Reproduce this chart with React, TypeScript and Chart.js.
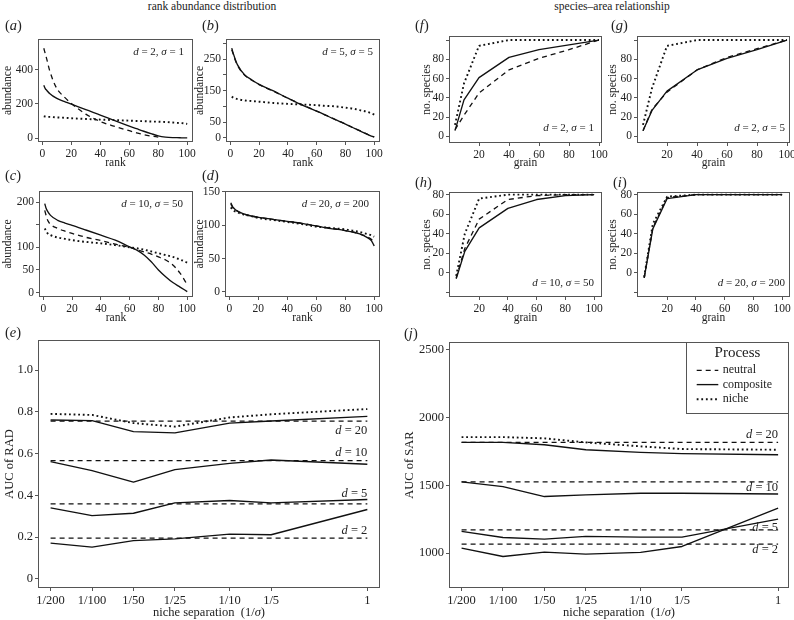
import React, { useEffect, useRef } from 'react';
import { Chart, registerables } from 'chart.js';

Chart.register(...registerables);

// ---------------- data ----------------
const RANK = [1, 2, 3, 5, 10, 15, 20, 30, 40, 50, 60, 65, 70, 75, 80, 85, 90, 95, 98, 100];

const A_NEUTRAL = [526, 495, 464, 396, 290, 242, 203, 140, 97, 68, 43, 31, 20, 12, 6, null, null, null, null, null];
const A_COMPOSITE = [309, 290, 280, 261, 232, 215, 199, 166, 135, 102, 70, 55, 40, 26, 13, 6, 3, 2, 1, 1];
const A_NICHE = [128, 126, 125, 124, 121, 119, 116, 112, 108, 105, 102, 100, 99, 97, 96, 94, 91, 88, 86, 83];

const B_NEUTRAL = [280, 266, 252, 230, 199, 183, 169, 148, 126, 105, 85, 75, 65, 54, 44, 33, 23, 12, 6, 3];
const B_COMPOSITE = [285, 269, 255, 232, 200, 184, 170, 149, 126, 104, 85, 75, 64, 54, 44, 33, 22, 12, 6, 3];
const B_NICHE = [131, 128, 126, 123, 119, 117, 115, 111, 108, 106, 104, 102, 101, 99, 96, 93, 88, 83, 78, 74];

const C_NEUTRAL = [182, 170, 160, 151, 142, 136, 131, 122, 115, 107, 100, 95, 90, 85, 79, 72, 61, 43, 28, 17];
const C_COMPOSITE = [197, 186, 180, 171, 160, 154, 149, 138, 127, 116, 101, 94, 83, 68, 50, 35, 22, 12, 6, 2];
const C_NICHE = [142, 136, 131, 127, 122, 119, 116, 112, 109, 105, 100, 98, 95, 91, 87, 83, 79, 73, 69, 66];

const D_NEUTRAL = [132, 128, 125, 122, 117, 114, 112, 109, 106, 103, 99, 97, 96, 94, 92, 90, 87, 83, 79, 74];
const D_COMPOSITE = [134, 129, 126, 122, 117, 114, 112, 109, 106, 103, 99, 97, 95, 94, 92, 90, 87, 82, 77, 69];
const D_NICHE = [127, 124, 122, 120, 116, 114, 111, 108, 105, 102, 98, 97, 96, 95, 94, 92, 90, 87, 85, 83];

const GRAIN = [4, 10, 20, 40, 60, 80, 100];

const F_NEUTRAL = [7, 22, 45, 69, 81, 90, 100];
const F_COMPOSITE = [6, 38, 61, 82, 90, 95, 100];
const F_NICHE = [12, 55, 94, 100, 100, 100, 100];

const G_NEUTRAL = [6, 28, 46, 69, 82, 91, 100];
const G_COMPOSITE = [6, 27, 47, 69, 81, 90, 100];
const G_NICHE = [12, 50, 94, 100, 100, 100, 100];

const H_NEUTRAL = [-5, 25, 55, 75, 79, 80, 80];
const H_COMPOSITE = [-6, 22, 46, 66, 75, 79, 80];
const H_NICHE = [-3, 40, 76, 80, 80, 80, 80];

const I_NEUTRAL = [-5, 46, 77, 80, 80, 80, 80];
const I_COMPOSITE = [-5, 45, 76, 80, 80, 80, 80];
const I_NICHE = [-4, 50, 78, 80, 80, 80, 80];

const NICHE_SEP = [1 / 200, 1 / 100, 1 / 50, 1 / 25, 1 / 10, 1 / 5, 1];
const NICHE_SEP_LABELS = ['1/200', '1/100', '1/50', '1/25', '1/10', '1/5', '1'];

const E_NEUTRAL_D20 = [0.755, 0.755, 0.755, 0.755, 0.755, 0.755, 0.755];
const E_NEUTRAL_D10 = [0.566, 0.566, 0.566, 0.566, 0.566, 0.566, 0.566];
const E_NEUTRAL_D5 = [0.359, 0.359, 0.359, 0.359, 0.359, 0.359, 0.359];
const E_NEUTRAL_D2 = [0.195, 0.195, 0.195, 0.195, 0.195, 0.195, 0.195];
const E_COMPOSITE_D20 = [0.761, 0.758, 0.705, 0.699, 0.746, 0.756, 0.778];
const E_COMPOSITE_D10 = [0.561, 0.518, 0.463, 0.523, 0.553, 0.569, 0.549];
const E_COMPOSITE_D5 = [0.34, 0.303, 0.314, 0.364, 0.375, 0.364, 0.38];
const E_COMPOSITE_D2 = [0.171, 0.152, 0.183, 0.191, 0.214, 0.211, 0.332];
const E_NICHE = [0.79, 0.785, 0.746, 0.729, 0.773, 0.788, 0.813];
const E_D_LABELS = [
  { d: 20, y: 0.71 },
  { d: 10, y: 0.603 },
  { d: 5, y: 0.407 },
  { d: 2, y: 0.231 },
];

const J_NEUTRAL_D20 = [1816, 1816, 1816, 1816, 1816, 1816, 1816];
const J_NEUTRAL_D10 = [1525, 1525, 1525, 1525, 1525, 1525, 1525];
const J_NEUTRAL_D5 = [1172, 1172, 1172, 1172, 1172, 1172, 1172];
const J_NEUTRAL_D2 = [1066, 1066, 1066, 1066, 1066, 1066, 1066];
const J_COMPOSITE_D20 = [1816, 1816, 1799, 1762, 1743, 1733, 1725];
const J_COMPOSITE_D10 = [1525, 1490, 1417, 1429, 1441, 1441, 1436];
const J_COMPOSITE_D5 = [1160, 1115, 1103, 1123, 1118, 1118, 1250];
const J_COMPOSITE_D2 = [1037, 975, 1007, 993, 1005, 1049, 1331];
const J_NICHE = [1855, 1855, 1846, 1816, 1787, 1767, 1762];
const J_D_LABELS = [
  { d: 20, y: 1873 },
  { d: 10, y: 1480 },
  { d: 5, y: 1190 },
  { d: 2, y: 1027 },
];

type Kind = 'neutral' | 'composite' | 'niche';
const LEGEND_ITEMS: Kind[] = ['neutral', 'composite', 'niche'];

// ---------------- styles ----------------
const FONT = '"Liberation Serif", "Times New Roman", serif';
const INK = '#222';
const FRAME = '#555';

const LINE: Record<Kind, any> = {
  neutral: { borderDash: [5, 4], borderWidth: 1.3 },
  composite: { borderDash: [], borderWidth: 1.35 },
  niche: { borderDash: [1.8, 2.8], borderWidth: 1.9 },
};

type Seg = { t: string; i?: boolean };
const sig = (d: number, s: number): Seg[] => [
  { t: 'd', i: true },
  { t: ` = ${d}, ` },
  { t: 'σ', i: true },
  { t: ` = ${s}` },
];

function drawRich(ctx: CanvasRenderingContext2D, segs: Seg[], x: number, y: number, size: number, align: string) {
  const fonts = segs.map((s) => `${s.i ? 'italic ' : ''}${size}px ${FONT}`);
  const ws = segs.map((s, k) => {
    ctx.font = fonts[k];
    return ctx.measureText(s.t).width;
  });
  const total = ws.reduce((a, b) => a + b, 0);
  let cx = align === 'right' ? x - total : align === 'center' ? x - total / 2 : x;
  ctx.textBaseline = 'middle';
  ctx.textAlign = 'left';
  segs.forEach((s, k) => {
    ctx.font = fonts[k];
    ctx.fillText(s.t, cx, y);
    cx += ws[k];
  });
}

const decoPlugin = {
  id: 'deco',
  afterDraw(chart: any, _args: any, opts: any) {
    const { ctx, chartArea: ca } = chart;
    ctx.save();
    ctx.setLineDash([]);
    ctx.strokeStyle = FRAME;
    ctx.lineWidth = 1;
    ctx.strokeRect(Math.round(ca.left) + 0.5, Math.round(ca.top) + 0.5, Math.round(ca.right - ca.left) - 1, Math.round(ca.bottom - ca.top) - 1);
    ctx.fillStyle = INK;
    if (opts.note) {
      const n = opts.note;
      const y = n.from === 'top' ? ca.top + n.dy : ca.bottom + n.dy;
      drawRich(ctx, n.segs, ca.right + n.dx, y, n.size, 'right');
    }
    if (opts.dLabels) {
      const xs = chart.scales.x;
      const ys = chart.scales.y;
      for (const d of opts.dLabels) {
        drawRich(ctx, [{ t: 'd', i: true }, { t: ' = ' + d.d }], xs.getPixelForValue(1), ys.getPixelForValue(d.y), opts.dSize, 'right');
      }
    }
    if (opts.xRich) {
      drawRich(ctx, opts.xRich.segs, (ca.left + ca.right) / 2, opts.xRich.y, opts.xRich.size, 'center');
    }
    if (opts.legend) {
      const w = 103;
      const h = 72;
      const lx = Math.round(ca.right) - w;
      const ty = Math.round(ca.top);
      ctx.fillStyle = '#fff';
      ctx.fillRect(lx + 0.5, ty + 0.5, w - 1, h - 1);
      ctx.strokeStyle = FRAME;
      ctx.lineWidth = 1;
      ctx.strokeRect(lx + 0.5, ty + 0.5, w - 1, h - 1);
      ctx.fillStyle = INK;
      ctx.font = `15px ${FONT}`;
      ctx.textAlign = 'center';
      ctx.textBaseline = 'middle';
      ctx.fillText('Process', lx + w / 2, ty + 11);
      const rows = [28.3, 42.6, 57.3];
      LEGEND_ITEMS.forEach((k, idx) => {
        const yy = ty + rows[idx];
        ctx.save();
        ctx.strokeStyle = '#111';
        ctx.lineWidth = LINE[k].borderWidth;
        ctx.setLineDash(LINE[k].borderDash);
        ctx.beginPath();
        ctx.moveTo(lx + 10.7, yy);
        ctx.lineTo(lx + 32.3, yy);
        ctx.stroke();
        ctx.restore();
        ctx.fillStyle = INK;
        ctx.font = `12px ${FONT}`;
        ctx.textAlign = 'left';
        ctx.textBaseline = 'middle';
        ctx.fillText(k, lx + 36.7, yy);
      });
    }
    ctx.restore();
  },
};

// ---------------- panels ----------------
const radTicks = { ticks: [0, 20, 40, 60, 80, 100], labels: ['0', '20', '40', '60', '80', '100'] };
const sarTicks = { ticks: [20, 40, 60, 80, 100], labels: ['20', '40', '60', '80', '100'] };

const PANELS: any[] = [
  {
    id: 'a', box: [38, 39, 193, 142], yTitleX: 7.5, xTitleY: 163, yTitle: 'abundance', xTitle: 'rank',
    x: { type: 'linear', min: -3, max: 104, ...radTicks },
    y: { min: -23, max: 580, ticks: [0, 200, 400], labels: ['0', '200', '400'] },
    smooth: true,
    series: [
      { x: RANK, y: A_NEUTRAL, kind: 'neutral' },
      { x: RANK, y: A_COMPOSITE, kind: 'composite' },
      { x: RANK, y: A_NICHE, kind: 'niche' },
    ],
    note: { segs: sig(2, 1), dx: -9, dy: 13, from: 'top' },
  },
  {
    id: 'b', box: [226, 39, 380, 142], yTitleX: 200, xTitleY: 163, yTitle: 'abundance', xTitle: 'rank',
    x: { type: 'linear', min: -3, max: 104, ...radTicks },
    y: { min: -13, max: 314, ticks: [0, 50, 100, 150, 200, 250, 300], labels: ['0', '50', '', '150', '', '250', ''] },
    smooth: true,
    series: [
      { x: RANK, y: B_NEUTRAL, kind: 'neutral' },
      { x: RANK, y: B_COMPOSITE, kind: 'composite' },
      { x: RANK, y: B_NICHE, kind: 'niche' },
    ],
    note: { segs: sig(5, 5), dx: -7, dy: 13, from: 'top' },
  },
  {
    id: 'c', box: [39, 191, 193, 297], yTitleX: 7.5, xTitleY: 318, yTitle: 'abundance', xTitle: 'rank',
    x: { type: 'linear', min: -3, max: 104, ...radTicks },
    y: { min: -10, max: 225, ticks: [0, 50, 100, 150, 200], labels: ['0', '50', '100', '', '200'] },
    smooth: true,
    series: [
      { x: RANK, y: C_NEUTRAL, kind: 'neutral' },
      { x: RANK, y: C_COMPOSITE, kind: 'composite' },
      { x: RANK, y: C_NICHE, kind: 'niche' },
    ],
    note: { segs: sig(10, 50), dx: -10, dy: 13.5, from: 'top' },
  },
  {
    id: 'd', box: [225, 191, 380, 297], yTitleX: 200, xTitleY: 318, yTitle: 'abundance', xTitle: 'rank',
    x: { type: 'linear', min: -3, max: 104, ...radTicks },
    y: { min: -7.6, max: 151.5, ticks: [0, 50, 100, 150], labels: ['0', '50', '100', '150'] },
    smooth: true,
    series: [
      { x: RANK, y: D_NEUTRAL, kind: 'neutral' },
      { x: RANK, y: D_COMPOSITE, kind: 'composite' },
      { x: RANK, y: D_NICHE, kind: 'niche' },
    ],
    note: { segs: sig(20, 200), dx: -11, dy: 13.5, from: 'top' },
  },
  {
    id: 'f', box: [449, 36, 602, 143], yTitleX: 426.7, xTitleY: 163, yTitle: 'no. species', xTitle: 'grain',
    x: { type: 'linear', min: 0, max: 102, ...sarTicks },
    y: { min: -6.8, max: 104.2, ticks: [0, 20, 40, 60, 80, 100], labels: ['0', '20', '40', '60', '80', ''] },
    series: [
      { x: GRAIN, y: F_NEUTRAL, kind: 'neutral' },
      { x: GRAIN, y: F_COMPOSITE, kind: 'composite' },
      { x: GRAIN, y: F_NICHE, kind: 'niche' },
    ],
    note: { segs: sig(2, 1), dx: -8, dy: -15, from: 'bottom' },
  },
  {
    id: 'g', box: [637, 36, 790, 143], yTitleX: 613.3, xTitleY: 163, yTitle: 'no. species', xTitle: 'grain',
    x: { type: 'linear', min: 0, max: 102, ...sarTicks },
    y: { min: -6.8, max: 104.2, ticks: [0, 20, 40, 60, 80, 100], labels: ['0', '20', '40', '60', '80', ''] },
    series: [
      { x: GRAIN, y: G_NEUTRAL, kind: 'neutral' },
      { x: GRAIN, y: G_COMPOSITE, kind: 'composite' },
      { x: GRAIN, y: G_NICHE, kind: 'niche' },
    ],
    note: { segs: sig(2, 5), dx: -5, dy: -15, from: 'bottom' },
  },
  {
    id: 'h', box: [449, 192, 602, 297], yTitleX: 426.7, xTitleY: 318, yTitle: 'no. species', xTitle: 'grain',
    x: { type: 'linear', min: -1, max: 105.5, ...sarTicks },
    y: { min: -24.6, max: 82.7, ticks: [-20, 0, 20, 40, 60, 80], labels: ['', '0', '20', '40', '60', '80'] },
    series: [
      { x: GRAIN, y: H_NEUTRAL, kind: 'neutral' },
      { x: GRAIN, y: H_COMPOSITE, kind: 'composite' },
      { x: GRAIN, y: H_NICHE, kind: 'niche' },
    ],
    note: { segs: sig(10, 50), dx: -8, dy: -14, from: 'bottom' },
  },
  {
    id: 'i', box: [637, 192, 790, 297], yTitleX: 613.3, xTitleY: 318, yTitle: 'no. species', xTitle: 'grain',
    x: { type: 'linear', min: -1, max: 105.5, ...sarTicks },
    y: { min: -24.6, max: 82.7, ticks: [-20, 0, 20, 40, 60, 80], labels: ['', '0', '20', '40', '60', '80'] },
    series: [
      { x: GRAIN, y: I_NEUTRAL, kind: 'neutral' },
      { x: GRAIN, y: I_COMPOSITE, kind: 'composite' },
      { x: GRAIN, y: I_NICHE, kind: 'niche' },
    ],
    note: { segs: sig(20, 200), dx: -5, dy: -14, from: 'bottom' },
  },
  {
    id: 'e', big: true, box: [38, 340, 380, 588], yTitleX: 10, xTitleY: 613, yTitle: 'AUC of RAD', xTitle: null,
    x: { type: 'logarithmic', min: 0.00405, max: 1.236, ticks: NICHE_SEP, labels: NICHE_SEP_LABELS },
    y: { min: -0.044, max: 1.144, ticks: [0, 0.2, 0.4, 0.6, 0.8, 1.0], labels: ['0', '0.2', '0.4', '0.6', '0.8', '1.0'] },
    series: [
      { x: NICHE_SEP, y: E_NEUTRAL_D20, kind: 'neutral' },
      { x: NICHE_SEP, y: E_NEUTRAL_D10, kind: 'neutral' },
      { x: NICHE_SEP, y: E_NEUTRAL_D5, kind: 'neutral' },
      { x: NICHE_SEP, y: E_NEUTRAL_D2, kind: 'neutral' },
      { x: NICHE_SEP, y: E_COMPOSITE_D20, kind: 'composite' },
      { x: NICHE_SEP, y: E_COMPOSITE_D10, kind: 'composite' },
      { x: NICHE_SEP, y: E_COMPOSITE_D5, kind: 'composite' },
      { x: NICHE_SEP, y: E_COMPOSITE_D2, kind: 'composite' },
      { x: NICHE_SEP, y: E_NICHE, kind: 'niche' },
    ],
    dLabels: E_D_LABELS,
  },
  {
    id: 'j', big: true, box: [449, 342, 789, 588], yTitleX: 410, xTitleY: 613, yTitle: 'AUC of SAR', xTitle: null,
    x: { type: 'logarithmic', min: 0.00405, max: 1.2, ticks: NICHE_SEP, labels: NICHE_SEP_LABELS },
    y: { min: 743, max: 2556, ticks: [1000, 1500, 2000, 2500], labels: ['1000', '1500', '2000', '2500'] },
    series: [
      { x: NICHE_SEP, y: J_NEUTRAL_D20, kind: 'neutral' },
      { x: NICHE_SEP, y: J_NEUTRAL_D10, kind: 'neutral' },
      { x: NICHE_SEP, y: J_NEUTRAL_D5, kind: 'neutral' },
      { x: NICHE_SEP, y: J_NEUTRAL_D2, kind: 'neutral' },
      { x: NICHE_SEP, y: J_COMPOSITE_D20, kind: 'composite' },
      { x: NICHE_SEP, y: J_COMPOSITE_D10, kind: 'composite' },
      { x: NICHE_SEP, y: J_COMPOSITE_D5, kind: 'composite' },
      { x: NICHE_SEP, y: J_COMPOSITE_D2, kind: 'composite' },
      { x: NICHE_SEP, y: J_NICHE, kind: 'niche' },
    ],
    dLabels: J_D_LABELS,
    legend: true,
  },
];

function geom(c: any) {
  const [l, t, r, b] = c.box;
  const off = 8;
  const left = Math.round(c.yTitleX - off);
  const L = l - left;
  const T = 12;
  const R = 14;
  const top = t - T;
  const B = Math.round(c.xTitleY + 9 - b);
  return { left, top, L, T, R, B, w: L + (r - l) + R, h: T + (b - t) + B };
}

function makeConfig(c: any, g: any) {
  const big = !!c.big;
  const tickSize = big ? 12.5 : 11.5;
  const titleSize = big ? 12.5 : 11.5;
  const lh = titleSize * 1.2;
  const tickLen = 3;
  const datasets = c.series.map((s: any) => ({
    data: s.x.map((xv: number, i: number) => ({ x: xv, y: s.y[i] })),
    borderColor: '#111',
    backgroundColor: 'transparent',
    pointRadius: 0,
    pointHoverRadius: 0,
    fill: false,
    tension: c.smooth ? 0.4 : 0,
    cubicInterpolationMode: c.smooth ? 'monotone' : 'default',
    spanGaps: false,
    borderCapStyle: 'butt',
    borderJoinStyle: 'round',
    ...LINE[s.kind as Kind],
  }));
  const yTitlePad = Math.max(0, c.yTitleX - g.left - lh / 2);
  const xTitlePad = Math.max(0, g.top + g.h - c.xTitleY - lh / 2);
  const grid = { display: true, drawOnChartArea: false, drawTicks: true, tickLength: tickLen, color: FRAME, lineWidth: 1 };
  const tickFont = { family: FONT, size: tickSize };
  return {
    type: 'line',
    data: { datasets },
    options: {
      responsive: false,
      maintainAspectRatio: false,
      animation: false,
      events: [],
      layout: { padding: { left: 0, top: g.T, right: g.R, bottom: 0 } },
      plugins: {
        legend: { display: false },
        tooltip: { enabled: false },
        deco: {
          note: c.note ? { ...c.note, size: 11 } : null,
          dLabels: c.dLabels || null,
          dSize: 12.5,
          legend: !!c.legend,
          xRich: c.xTitle
            ? null
            : { segs: [{ t: 'niche separation  (1/' }, { t: 'σ', i: true }, { t: ')' }], y: c.xTitleY - g.top, size: 12.5 },
        },
      },
      scales: {
        x: {
          type: c.x.type,
          min: c.x.min,
          max: c.x.max,
          bounds: 'data',
          afterBuildTicks: (s: any) => {
            s.ticks = c.x.ticks.map((v: number) => ({ value: v }));
          },
          afterFit: (s: any) => {
            s.height = g.B;
          },
          ticks: {
            autoSkip: false,
            maxRotation: 0,
            minRotation: 0,
            padding: 2,
            color: INK,
            font: tickFont,
            callback: (_v: any, i: number) => c.x.labels[i],
          },
          grid,
          border: { display: false },
          title: c.xTitle
            ? { display: true, text: c.xTitle, color: INK, font: { family: FONT, size: titleSize }, padding: { top: 0, bottom: xTitlePad } }
            : { display: false },
        },
        y: {
          type: 'linear',
          min: c.y.min,
          max: c.y.max,
          bounds: 'data',
          afterBuildTicks: (s: any) => {
            s.ticks = c.y.ticks.map((v: number) => ({ value: v }));
          },
          afterFit: (s: any) => {
            s.width = g.L;
          },
          ticks: {
            autoSkip: false,
            padding: 2,
            color: INK,
            font: tickFont,
            callback: (_v: any, i: number) => c.y.labels[i],
          },
          grid,
          border: { display: false },
          title: { display: true, text: c.yTitle, color: INK, font: { family: FONT, size: titleSize }, padding: { top: yTitlePad, bottom: 0 } },
        },
      },
    },
    plugins: [decoPlugin],
  };
}

function Panel({ cfg }: { cfg: any }) {
  const ref = useRef<HTMLCanvasElement | null>(null);
  const g = geom(cfg);
  useEffect(() => {
    if (!ref.current) return;
    const chart = new Chart(ref.current, makeConfig(cfg, g) as any);
    return () => chart.destroy();
  }, []);
  return (
    <canvas
      ref={ref}
      width={g.w}
      height={g.h}
      style={{ position: 'absolute', left: g.left, top: g.top, width: g.w, height: g.h }}
    />
  );
}

const LETTERS = [
  { k: 'a', x: 5, y: 25 },
  { k: 'b', x: 202, y: 25 },
  { k: 'c', x: 5, y: 175 },
  { k: 'd', x: 202, y: 175 },
  { k: 'e', x: 5, y: 332 },
  { k: 'f', x: 415, y: 25 },
  { k: 'g', x: 611, y: 25 },
  { k: 'h', x: 415, y: 182 },
  { k: 'i', x: 613, y: 182 },
  { k: 'j', x: 404, y: 333 },
];

export default function App() {
  return (
    <div
      style={{
        position: 'absolute',
        left: 0,
        top: 0,
        width: 794,
        height: 620,
        background: '#fff',
        overflow: 'hidden',
        fontFamily: FONT,
        color: INK,
      }}
    >
      {PANELS.map((p) => (
        <Panel key={p.id} cfg={p} />
      ))}
      <div style={{ position: 'absolute', left: 112, width: 200, top: 7, transform: 'translateY(-50%)', textAlign: 'center', fontSize: 11.5, lineHeight: 1 }}>
        rank abundance distribution
      </div>
      <div style={{ position: 'absolute', left: 512, width: 200, top: 7, transform: 'translateY(-50%)', textAlign: 'center', fontSize: 11.5, lineHeight: 1 }}>
        species–area relationship
      </div>
      {LETTERS.map((l) => (
        <div key={l.k} style={{ position: 'absolute', left: l.x, top: l.y, transform: 'translateY(-50%)', fontSize: 14.5, lineHeight: 1 }}>
          (<i>{l.k}</i>)
        </div>
      ))}
    </div>
  );
}
